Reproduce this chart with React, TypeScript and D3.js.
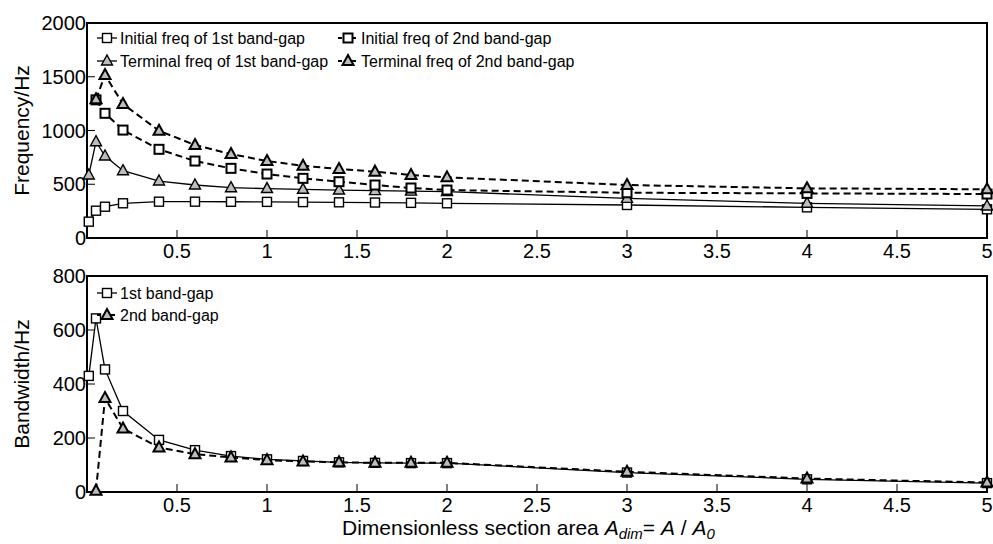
import React from "react";
import * as d3 from "d3";

// ---- data ----
const xs1 = [0.01, 0.05, 0.1, 0.2, 0.4, 0.6, 0.8, 1.0, 1.2, 1.4, 1.6, 1.8, 2.0, 3, 4, 5];
const xs2 = [0.05, 0.1, 0.2, 0.4, 0.6, 0.8, 1.0, 1.2, 1.4, 1.6, 1.8, 2.0, 3, 4, 5];

const initFreq1 = [152, 254, 291, 323, 338, 338, 337, 336, 334, 332, 330, 327, 323, 307, 285, 267];
const termFreq1 = [586, 896, 763, 626, 530, 493, 468, 460, 453, 446, 441, 436, 431, 369, 323, 298];
const initFreq2 = [1285, 1160, 1004, 825, 716, 648, 595, 555, 524, 493, 465, 446, 421, 415, 409];
const termFreq2 = [1290, 1516, 1246, 998, 865, 781, 716, 672, 642, 617, 586, 564, 493, 462, 453];

const bandwidth1 = [430, 643, 454, 300, 193, 155, 133, 121, 115, 110, 108, 107, 107, 72, 47, 33];
const bandwidth2 = [5, 348, 235, 165, 140, 128, 118, 113, 110, 108, 108, 108, 75, 50, 35];

const xTicks = [0.5, 1, 1.5, 2, 2.5, 3, 3.5, 4, 4.5, 5];
const yTicksTop = [0, 500, 1000, 1500, 2000];
const yTicksBottom = [0, 200, 400, 600, 800];

const topLegend = [
  "Initial freq of 1st band-gap",
  "Initial freq of 2nd band-gap",
  "Terminal freq of 1st band-gap",
  "Terminal freq of 2nd band-gap",
];
const bottomLegend = ["1st band-gap", "2nd band-gap"];

const FONT = "'Liberation Sans', Arial, Helvetica, sans-serif";
const L = 87, R = 987;
const TOP = { y0: 23, y1: 238 };
const BOT = { y0: 276, y1: 492 };

const x = d3.scaleLinear().domain([0, 5]).range([L, R]);
const yTop = d3.scaleLinear().domain([0, 2000]).range([TOP.y1, TOP.y0]);
const yBot = d3.scaleLinear().domain([0, 800]).range([BOT.y1, BOT.y0]);

type Kind = "square" | "triangle";

function Marker({ cx, cy, kind, thick }: { cx: number; cy: number; kind: Kind; thick: boolean }) {
  const sw = thick ? 2 : 1.4;
  if (kind === "square") {
    return <rect x={cx - 4.5} y={cy - 4.5} width={9} height={9} fill="#fff" stroke="#000" strokeWidth={sw} />;
  }
  const p = `M${cx},${cy - 6} L${cx + 5.5},${cy + 4} L${cx - 5.5},${cy + 4} Z`;
  return <path d={p} fill="#bdbdbd" stroke="#000" strokeWidth={sw} strokeLinejoin="miter" />;
}

function Series({ xs, ys, y, kind, dashed }: { xs: number[]; ys: number[]; y: d3.ScaleLinear<number, number>; kind: Kind; dashed: boolean }) {
  const pts: [number, number][] = xs.map((v, i) => [v, ys[i]]);
  const line = d3.line<[number, number]>().x((d) => x(d[0])).y((d) => y(d[1]));
  return (
    <g>
      <path d={line(pts) || ""} fill="none" stroke="#000" strokeWidth={dashed ? 2 : 1.3} strokeDasharray={dashed ? "7,4" : undefined} />
      {pts.map((d, i) => (
        <Marker key={i} cx={x(d[0])} cy={y(d[1])} kind={kind} thick={dashed} />
      ))}
    </g>
  );
}

function LegendItem({ lx, ly, label, kind, dashed }: { lx: number; ly: number; label: string; kind: Kind; dashed: boolean }) {
  return (
    <g>
      <line x1={lx} x2={lx + 20} y1={ly} y2={ly} stroke="#000" strokeWidth={dashed ? 2 : 1.3} strokeDasharray={dashed ? "4,3" : undefined} />
      <Marker cx={lx + 10} cy={ly} kind={kind} thick={dashed} />
      <text x={lx + 23} y={ly + 5.5} fontSize={16} fontFamily={FONT}>{label}</text>
    </g>
  );
}

function Frame({ y, y0, y1, yTicks, title }: { y: d3.ScaleLinear<number, number>; y0: number; y1: number; yTicks: number[]; title: string }) {
  return (
    <g>
      {xTicks.map((t) => (
        <g key={t}>
          <line x1={x(t)} x2={x(t)} y1={y1} y2={y1 - 8} stroke="#000" strokeWidth={1} />
          <text x={x(t)} y={y1 + 20} textAnchor="middle" fontSize={20} fontFamily={FONT}>{t}</text>
        </g>
      ))}
      {yTicks.map((t) => (
        <g key={t}>
          <line x1={L} x2={L + 8} y1={y(t)} y2={y(t)} stroke="#000" strokeWidth={1} />
          <text x={L - 1} y={y(t) + 7} textAnchor="end" fontSize={20} fontFamily={FONT}>{t}</text>
        </g>
      ))}
      <rect x={L} y={y0} width={R - L} height={y1 - y0} fill="none" stroke="#000" strokeWidth={2} />
      <text transform={`translate(29,${(y0 + y1) / 2}) rotate(-90)`} textAnchor="middle" fontSize={21} fontFamily={FONT}>{title}</text>
    </g>
  );
}

export default function App() {
  return (
    <svg width={993} height={544} style={{ position: "absolute", left: 0, top: 0, background: "#fff" }}>
      <rect width={993} height={544} fill="#fff" />
      {/* top chart */}
      <Frame y={yTop} y0={TOP.y0} y1={TOP.y1} yTicks={yTicksTop} title="Frequency/Hz" />
      <Series xs={xs1} ys={initFreq1} y={yTop} kind="square" dashed={false} />
      <Series xs={xs1} ys={termFreq1} y={yTop} kind="triangle" dashed={false} />
      <Series xs={xs2} ys={initFreq2} y={yTop} kind="square" dashed={true} />
      <Series xs={xs2} ys={termFreq2} y={yTop} kind="triangle" dashed={true} />
      <LegendItem lx={97} ly={38} label={topLegend[0]} kind="square" dashed={false} />
      <LegendItem lx={338} ly={38} label={topLegend[1]} kind="square" dashed={true} />
      <LegendItem lx={97} ly={61} label={topLegend[2]} kind="triangle" dashed={false} />
      <LegendItem lx={338} ly={61} label={topLegend[3]} kind="triangle" dashed={true} />

      {/* bottom chart */}
      <Frame y={yBot} y0={BOT.y0} y1={BOT.y1} yTicks={yTicksBottom} title="Bandwidth/Hz" />
      <Series xs={xs1} ys={bandwidth1} y={yBot} kind="square" dashed={false} />
      <Series xs={xs2} ys={bandwidth2} y={yBot} kind="triangle" dashed={true} />
      <LegendItem lx={97} ly={293} label={bottomLegend[0]} kind="square" dashed={false} />
      <LegendItem lx={97} ly={315} label={bottomLegend[1]} kind="triangle" dashed={true} />

      <text x={342} y={535} fontSize={21} fontFamily={FONT}>
        <tspan>Dimensionless section area </tspan>
        <tspan fontStyle="italic">A</tspan>
        <tspan fontStyle="italic" fontSize={15} dy={4}>dim</tspan>
        <tspan dy={-4}>= </tspan>
        <tspan fontStyle="italic">A</tspan>
        <tspan> / </tspan>
        <tspan fontStyle="italic">A</tspan>
        <tspan fontStyle="italic" fontSize={15} dy={4}>0</tspan>
      </text>
    </svg>
  );
}
